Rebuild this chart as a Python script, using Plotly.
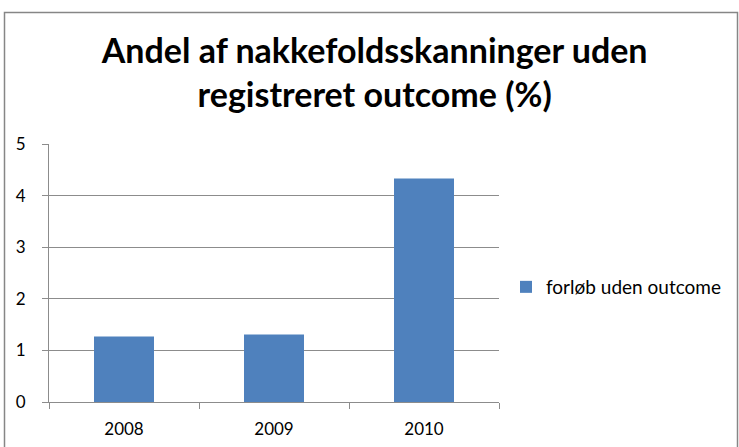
"""Andel af nakkefoldsskanninger uden registreret outcome, Excel-style bar chart."""

import plotly.graph_objects as go

# Data
YEARS = ["2008", "2009", "2010"]
SHARE_PCT = [1.27, 1.31, 4.33]
SERIES_NAME = "forløb uden outcome"
TITLE = "Andel af nakkefoldsskanninger uden<br>registreret outcome (%)"

BAR_COLOUR = "#4F81BD"
GRID_COLOUR = "#8C8C8C"
FONT = "Lato, 'Open Sans', Arial, sans-serif"

W, H = 739, 447
M_L, M_R, M_T, M_B = 49, 240, 144, 45
PLOT_W = W - M_L - M_R
PLOT_H = H - M_T - M_B


def _px_to_paper_x(px):
    return (px - M_L) / PLOT_W


def _px_to_paper_y(py):
    return (H - M_B - py) / PLOT_H


fig = go.Figure()
fig.add_trace(
    go.Bar(
        x=YEARS,
        y=SHARE_PCT,
        name=SERIES_NAME,
        marker=dict(color=BAR_COLOUR, line=dict(width=0)),
        showlegend=True,
    )
)

fig.update_layout(
    width=W,
    height=H,
    margin=dict(l=M_L, r=M_R, t=M_T, b=M_B, autoexpand=False),
    paper_bgcolor="white",
    plot_bgcolor="white",
    font=dict(family=FONT, size=17, color="#000000"),
    title=dict(
        text=TITLE,
        font=dict(family=FONT, size=34, color="#000000", weight="bold"),
        x=0.507,
        xanchor="center",
        y=0.86,
        yanchor="top",
        xref="container",
        yref="container",
    ),
    bargap=0.6,
    showlegend=True,
    legend=dict(
        x=_px_to_paper_x(506),
        y=_px_to_paper_y(287),
        xanchor="left",
        yanchor="middle",
        font=dict(family=FONT, size=19, color="#000000"),
        bgcolor="rgba(0,0,0,0)",
    ),
    xaxis=dict(
        type="category",
        showline=True,
        linecolor=GRID_COLOUR,
        linewidth=1,
        ticks="outside",
        tickson="boundaries",
        ticklen=6,
        tickcolor=GRID_COLOUR,
        showgrid=False,
        ticklabelstandoff=12,
        tickfont=dict(family=FONT, size=17),
    ),
    yaxis=dict(
        range=[0, 5],
        dtick=1,
        showline=True,
        linecolor=GRID_COLOUR,
        linewidth=1,
        ticks="outside",
        ticklen=6,
        tickcolor=GRID_COLOUR,
        showgrid=True,
        gridcolor=GRID_COLOUR,
        gridwidth=1,
        zeroline=False,
        ticklabelstandoff=13,
        tickfont=dict(family=FONT, size=17),
    ),
)

# chart-area frame (Excel outer border)
fig.add_shape(
    type="rect",
    xref="paper",
    yref="paper",
    x0=_px_to_paper_x(4.5),
    x1=_px_to_paper_x(737.5),
    y0=_px_to_paper_y(H + 20),
    y1=_px_to_paper_y(12.5),
    line=dict(color="#868686", width=1.5),
    fillcolor="rgba(0,0,0,0)",
    layer="below",
)

# page body has a default 8px margin; drop it so the figure sits at (0, 0)
fig.write_html(
    "out.html",
    config={"displayModeBar": False},
    post_script="document.body.style.margin='0';",
)
